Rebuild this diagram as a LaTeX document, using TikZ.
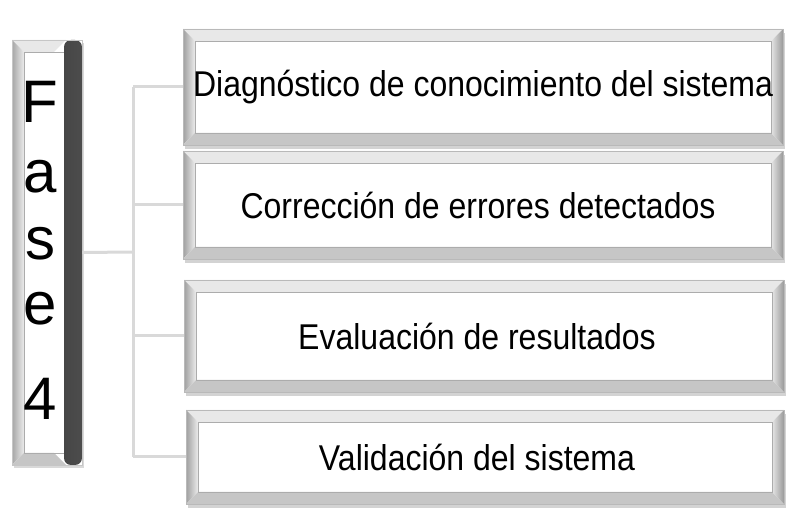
\documentclass[tikz,border=0pt]{standalone}
\usepackage{fontspec}
\setmainfont{Liberation Sans}
\usetikzlibrary{positioning,shadows}

\newcommand{\bw}{12pt}
\newcommand{\tall}[1]{\scalebox{1}[1.12]{#1}}

\tikzset{
  bevel/.style={
    path picture={
      \coordinate (nw) at (path picture bounding box.north west);
      \coordinate (ne) at (path picture bounding box.north east);
      \coordinate (sw) at (path picture bounding box.south west);
      \coordinate (se) at (path picture bounding box.south east);
      \fill[gray!18] (nw) -- (ne) -- ([shift={(-\bw,-\bw)}]ne) -- ([shift={(\bw,-\bw)}]nw) -- cycle;
      \shade[left color=gray!75, right color=gray!15] (nw) -- ([shift={(\bw,-\bw)}]nw) -- ([shift={(\bw,\bw)}]sw) -- (sw) -- cycle;
      \fill[gray!45] (sw) -- (se) -- ([shift={(-\bw,\bw)}]se) -- ([shift={(\bw,\bw)}]sw) -- cycle;
      \shade[left color=gray!20, right color=gray!80] (ne) -- (se) -- ([shift={(-\bw,\bw)}]se) -- ([shift={(-\bw,-\bw)}]ne) -- cycle;
      \draw[gray!65, line width=0.8pt] ([shift={(\bw,-\bw)}]nw) rectangle ([shift={(-\bw,\bw)}]se);
    }},
  stepbox/.style={rectangle, draw=gray!55, line width=0.6pt, fill=white, bevel,
    drop shadow={shadow xshift=2pt, shadow yshift=-4pt, opacity=0.35},
    minimum width=600pt, inner sep=0pt, font=\fontsize{32}{38}\selectfont},
  phase/.style={rectangle, draw=gray!45, line width=0.6pt, fill=white,
    minimum width=70pt, minimum height=425pt, inner sep=0pt,
    drop shadow={shadow xshift=2pt, shadow yshift=-3pt, opacity=0.3},
    path picture={
      \coordinate (nw) at (path picture bounding box.north west);
      \coordinate (ne) at ([xshift=-16pt]path picture bounding box.north east);
      \coordinate (sw) at (path picture bounding box.south west);
      \coordinate (se) at ([xshift=-16pt]path picture bounding box.south east);
      \fill[gray!18] (nw) -- (ne) -- ([shift={(-\bw,-\bw)}]ne) -- ([shift={(\bw,-\bw)}]nw) -- cycle;
      \shade[left color=gray!70, right color=gray!15] (nw) -- ([shift={(\bw,-\bw)}]nw) -- ([shift={(\bw,\bw)}]sw) -- (sw) -- cycle;
      \fill[gray!45] (sw) -- (se) -- ([shift={(-\bw,\bw)}]se) -- ([shift={(\bw,\bw)}]sw) -- cycle;
      \draw[gray!65, line width=0.8pt] ([shift={(\bw,-\bw)}]nw) rectangle ([shift={(-2pt,\bw)}]se);
      \shade[rounded corners=7pt, left color=gray!55!black, right color=black!70]
        ([xshift=-2pt]ne) rectangle (path picture bounding box.south east);
    }},
  letter/.style={font=\fontsize{60}{60}\selectfont, inner sep=0pt},
  conn/.style={draw=gray!30, line width=3pt}
}

\begin{document}
\begin{tikzpicture}[x=1pt, y=-1pt]
\useasboundingbox (0,0) rectangle (788,521);
% phase column
\node[phase] (fase) at (47,252.5) {};
\foreach \ch/\yb [count=\i] in {F/123, a/193, s/260, e/325, 4/420}
  \node[letter, anchor=base] (fase\i) at (40,\yb) {\ch};
% activities
\node[stepbox, minimum height=116pt] (b1) at (483,87) {\tall{Diagnóstico de conocimiento del sistema}};
\node[stepbox, minimum height=108pt] (b2) at (483,205) {\tall{Corrección de errores detectados}\hspace*{10pt}};
\node[stepbox, minimum height=112pt] (b3) at (484,336) {\tall{Evaluación de resultados}\hspace*{14pt}};
\node[stepbox, minimum height=94pt, minimum width=598pt] (b4) at (485,457) {\tall{Validación del sistema}\hspace*{16pt}};
% connectors
\coordinate (hub) at (133,252);
\draw[conn] (fase.east) -- (hub);
\draw[conn] (hub |- b1.west) -- (hub |- b4.west);
\foreach \b in {b1,b2,b3,b4} \draw[conn] (hub |- \b.west) -- (\b.west);
\end{tikzpicture}
\end{document}
